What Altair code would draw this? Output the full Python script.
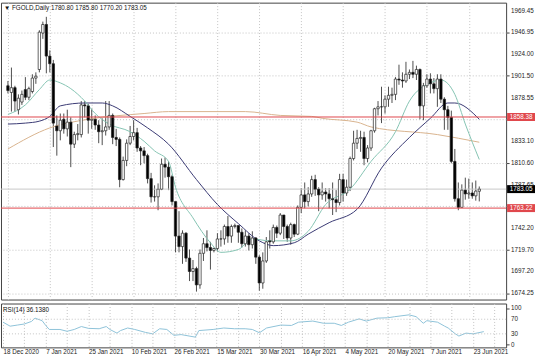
import altair as alt
import pandas as pd

# ---------------- data ----------------
opens = [1891,1884,1889,1866,1874,1887,1879,1885,1899,1908,1946,1955,1922,1914,1849,1844,1856,1846,1853,1830,
         1840,1840,1871,1870,1855,1856,1850,1843,1844,1848,1860,1837,1835,1793,1813,1831,1838,1842,1826,1823,
         1818,1794,1775,1775,1783,1809,1806,1796,1770,1734,1723,1737,1711,1697,1700,1683,1716,1726,1722,1719,
         1721,1731,1731,1744,1734,1744,1745,1738,1726,1734,1725,1732,1712,1685,1708,1729,1728,1743,1737,1756,
         1744,1732,1746,1736,1764,1777,1770,1778,1793,1783,1777,1780,1778,1773,1772,1769,1793,1779,1785,1815,
         1831,1836,1837,1815,1826,1844,1867,1869,1869,1877,1881,1882,1898,1897,1896,1903,1905,1903,1908,1870,
         1891,1898,1893,1888,1898,1877,1866,1858,1812,1773,1764,1782,1778,1779,1776,1780.80]
highs = [1896,1910,1891,1882,1886,1900,1890,1903,1905,1949,1958,1963,1928,1918,1860,1862,1862,1866,1858,1843,
         1851,1875,1875,1872,1867,1860,1855,1857,1875,1875,1862,1846,1837,1817,1835,1849,1855,1847,1828,1827,
         1820,1800,1787,1789,1815,1816,1812,1798,1770,1760,1740,1738,1720,1709,1702,1720,1732,1740,1728,1722,
         1737,1740,1746,1755,1746,1747,1745,1742,1740,1737,1739,1733,1714,1717,1733,1740,1746,1745,1758,1756,
         1746,1748,1747,1766,1784,1790,1785,1797,1798,1785,1790,1784,1784,1790,1782,1799,1799,1793,1817,1844,
         1845,1844,1843,1829,1845,1868,1875,1890,1881,1890,1889,1900,1913,1905,1916,1908,1917,1912,1909,1894,
         1903,1904,1899,1903,1903,1879,1870,1865,1825,1790,1788,1795,1794,1790,1792,1785.80]
lows = [1883,1864,1864,1861,1871,1876,1876,1883,1893,1905,1940,1904,1905,1827,1818,1834,1841,1838,1806,1826,
        1834,1837,1858,1841,1846,1845,1831,1829,1839,1845,1830,1828,1785,1792,1807,1829,1834,1822,1808,1810,
        1789,1769,1770,1761,1782,1795,1782,1766,1717,1717,1705,1707,1687,1687,1676,1679,1708,1718,1699,1717,
        1718,1723,1725,1727,1727,1742,1727,1722,1723,1719,1721,1705,1677,1679,1706,1721,1726,1732,1735,1731,
        1728,1725,1733,1735,1758,1763,1765,1775,1776,1760,1772,1770,1763,1756,1759,1766,1770,1776,1781,1813,
        1825,1822,1808,1811,1823,1842,1860,1852,1862,1869,1873,1876,1892,1889,1894,1898,1899,1897,1856,1855,
        1889,1883,1883,1869,1873,1845,1845,1810,1770,1761,1764,1772,1773,1773,1771,1770.20]
closes = [1886,1889,1875,1878,1882,1879,1888,1899,1901,1947,1955,1922,1914,1852,1844,1855,1846,1853,1830,1840,
          1841,1871,1870,1855,1856,1850,1843,1844,1848,1860,1837,1835,1793,1813,1831,1838,1842,1826,1823,1818,
          1794,1775,1775,1783,1809,1806,1796,1770,1734,1723,1737,1711,1697,1700,1683,1716,1726,1722,1719,1721,
          1731,1731,1744,1734,1744,1745,1738,1726,1734,1725,1732,1712,1685,1708,1728,1728,1743,1737,1756,1744,
          1732,1746,1736,1764,1777,1770,1778,1793,1783,1777,1780,1778,1773,1772,1769,1793,1779,1785,1815,1831,
          1836,1837,1815,1826,1844,1867,1869,1869,1877,1881,1882,1898,1897,1896,1903,1905,1903,1908,1870,1891,
          1898,1893,1888,1898,1877,1866,1858,1812,1773,1764,1782,1778,1779,1776,1781,1783.05]

# moving averages: (bar index, price)
ma_fast_i = [0, 5, 9, 12, 15, 18, 22, 25, 29, 35, 39, 42, 46, 48, 53, 58, 61, 66, 70, 75, 81, 86, 91, 98, 104, 111, 115, 121, 124, 128, 131, 135]
ma_fast_v = [1861, 1871, 1887, 1897, 1894, 1888, 1875, 1862, 1851, 1843, 1833, 1823, 1812, 1785, 1753, 1727, 1717, 1720, 1731, 1729, 1729, 1739, 1767, 1783, 1812, 1843, 1875, 1894, 1897, 1882, 1851, 1814]
ma_mid_i = [0, 5, 9, 12, 15, 22, 27, 30, 35, 40, 46, 54, 60, 66, 72, 76, 82, 86, 92, 100, 107, 115, 121, 126, 128, 135]
ma_mid_v = [1851, 1852, 1854, 1859, 1870, 1873, 1873, 1870, 1859, 1847, 1830, 1793, 1767, 1747, 1729, 1724, 1727, 1736, 1748, 1762, 1805, 1837, 1857, 1873, 1873, 1856]
ma_slow_i = [0, 12, 23, 39, 46, 68, 78, 87, 90, 100, 104, 123, 135]
ma_slow_v = [1825, 1847, 1856, 1862, 1864, 1864, 1860, 1859, 1857, 1853, 1848, 1840, 1832]

rsi_i = [0, 2, 4, 6, 8, 9, 11, 12, 13, 16, 18, 20, 22, 24, 27, 29, 30, 32, 33, 35, 37, 40, 42, 44, 46, 48, 50,
         54, 55, 59, 62, 65, 68, 70, 72, 74, 78, 81, 83, 87, 90, 93, 95, 97, 100, 102, 105, 108, 110, 114, 116,
         118, 119, 122, 124, 125, 127, 128, 130, 132, 135]
rsi_v = [62, 51, 54, 57, 64, 73, 66, 53, 42, 42, 37, 42, 50, 45, 44, 50, 42, 32, 39, 46, 42, 34, 30, 44, 42, 26, 28,
         21, 39, 42, 46, 44, 44, 42, 33, 46, 54, 53, 62, 65, 59, 59, 53, 62, 71, 65, 73, 74, 77, 82, 77,
         59, 66, 62, 51, 46, 30, 24, 32, 30, 36.138]

level_prices = [1858.38, 1763.22]
level_texts = ["1858.38", "1763.22"]
bid_price = [1783.05]
bid_text = ["1783.05"]

price_ticks = [1969.45, 1946.95, 1924.00, 1901.50, 1878.55, 1856.05, 1833.10, 1810.60,
               1787.65, 1765.15, 1742.20, 1719.70, 1697.20, 1674.25]
price_labels = ["1969.45", "1946.95", "1924.00", "1901.50", "1878.55", "", "1833.10", "1810.60",
                "1787.65", "", "1742.20", "1719.70", "1697.20", "1674.25"]
rsi_ticks = [0, 30, 70, 100]
rsi_labels = ["0", "30", "70", "100"]
date_pos = [0, 12, 24, 36, 48, 60, 72, 84, 96, 108, 120, 132]
date_txt = ["18 Dec 2020", "7 Jan 2021", "25 Jan 2021", "10 Feb 2021", "26 Feb 2021", "15 Mar 2021",
            "30 Mar 2021", "16 Apr 2021", "4 May 2021", "20 May 2021", "7 Jun 2021", "23 Jun 2021"]
header = "\u25bc FGOLD,Daily  1780.80 1785.80 1770.20 1783.05"
rsi_header = "RSI(14) 36.1380"

# ---------------- chart ----------------
FONT = "Liberation Sans"
FS = 6.3
GRID = "#c4c4c4"
TXT = "#222"
W = 507
H_MAIN = 298
H_RSI = 44

df = pd.DataFrame({"i": list(range(len(closes))), "o": opens, "h": highs, "l": lows, "c": closes})

xscale = alt.Scale(domain=[-0.56, 141.26], nice=False, zero=False)
yscale = alt.Scale(domain=[1667.7, 1977.8], nice=False, zero=False)
rscale = alt.Scale(domain=[-7, 113], nice=False, zero=False)

grid_vals = list(range(0, 141, 6))
x_grid_axis = alt.Axis(values=grid_vals, labels=False, ticks=False, domain=False, grid=True,
                       gridColor=GRID, gridDash=[1, 2], title=None)
y_axis = alt.Axis(orient="right", values=price_ticks, labels=False, tickSize=3, tickColor="#444",
                  domain=False, grid=True, gridColor=GRID, gridDash=[1, 2], title=None)


def X(field="i"):
    return alt.X(f"{field}:Q", scale=xscale)


def Y(field, scale=yscale):
    return alt.Y(f"{field}:Q", scale=scale)


wick = alt.Chart(df).mark_rule(color="#222", strokeWidth=0.8).encode(
    x=alt.X("i:Q", scale=xscale, axis=x_grid_axis),
    y=alt.Y("l:Q", scale=yscale, axis=y_axis),
    y2="h:Q",
)
body = alt.Chart(df).mark_bar(width=2.4, stroke="#222", strokeWidth=0.7).encode(
    x=X(), y=Y("o"), y2="c:Q",
    fill=alt.condition("datum.c >= datum.o", alt.value("#ffffff"), alt.value("#000000")),
)


def ma_layer(idx, vals, color, width=1.0):
    d = pd.DataFrame({"i": idx, "v": vals})
    return alt.Chart(d).mark_line(color=color, strokeWidth=width, interpolate="monotone").encode(
        x=X(), y=Y("v"))


ma_slow = ma_layer(ma_slow_i, ma_slow_v, "#d9b48f")
ma_mid = ma_layer(ma_mid_i, ma_mid_v, "#3b3b74")
ma_fast = ma_layer(ma_fast_i, ma_fast_v, "#86c4b3")

lv = pd.DataFrame({"p": level_prices, "t": level_texts})
bid = pd.DataFrame({"p": bid_price, "t": bid_text})
plab = pd.DataFrame({"p": price_ticks, "t": price_labels})

bid_line = alt.Chart(bid).mark_rule(color="#c8c8c8", strokeWidth=1).encode(y=Y("p"))
red_lines = alt.Chart(lv).mark_rule(color="#e0474c", strokeWidth=1).encode(y=Y("p"))

price_txt = alt.Chart(plab).mark_text(font=FONT, fontSize=FS, align="left", baseline="middle", color=TXT).encode(
    x=alt.value(W + 5), y=Y("p"), text="t:N")

red_tag = alt.Chart(lv).mark_tick(orient="horizontal", size=28, thickness=8, color="#e0474c", opacity=1).encode(
    x=alt.value(W + 15), y=Y("p"))
red_txt = alt.Chart(lv).mark_text(color="white", font=FONT, fontSize=FS, align="center", baseline="middle").encode(
    x=alt.value(W + 15), y=Y("p"), text="t:N")
bid_tag = alt.Chart(bid).mark_tick(orient="horizontal", size=28, thickness=8, color="#000000", opacity=1).encode(
    x=alt.value(W + 15), y=Y("p"))
bid_txt = alt.Chart(bid).mark_text(color="white", font=FONT, fontSize=FS, align="center", baseline="middle").encode(
    x=alt.value(W + 15), y=Y("p"), text="t:N")

head = alt.Chart(pd.DataFrame({"t": [header]})).mark_text(
    font=FONT, fontSize=FS, align="left", baseline="middle", color="#111").encode(
    x=alt.value(3), y=alt.value(5), text="t:N")

main = alt.layer(wick, bid_line, ma_slow, ma_mid, ma_fast, body, red_lines, price_txt, red_tag, red_txt,
                 bid_tag, bid_txt, head).properties(width=W, height=H_MAIN)

# RSI panel
rsi_df = pd.DataFrame({"i": rsi_i, "v": rsi_v})
lab_x = " : ".join([f"datum.value == {p} ? '{t}'" for p, t in zip(date_pos, date_txt)]) + " : ''"
x_axis_bottom = alt.Axis(values=grid_vals, labelExpr=lab_x, labelFont=FONT, labelFontSize=FS, labelColor=TXT,
                         labelAlign="left", labelPadding=1, labelOverlap=False, labelFlush=False, labelBound=False,
                         ticks=False, domain=False, grid=True, gridColor=GRID, gridDash=[1, 2], title=None)
r_axis = alt.Axis(orient="right", values=rsi_ticks, labels=False, tickSize=3, tickColor="#444",
                  domain=False, grid=False, title=None)

rsi_line = alt.Chart(rsi_df).mark_line(color="#8fc3d9", strokeWidth=1).encode(
    x=alt.X("i:Q", scale=xscale, axis=x_axis_bottom),
    y=alt.Y("v:Q", scale=rscale, axis=r_axis))
rsi_lv = alt.Chart(pd.DataFrame({"v": [30, 70]})).mark_rule(color=GRID, strokeDash=[1, 2]).encode(
    y=Y("v", rscale))
rsi_txt = alt.Chart(pd.DataFrame({"v": rsi_ticks, "t": rsi_labels})).mark_text(
    font=FONT, fontSize=FS, align="left", baseline="middle", color=TXT).encode(
    x=alt.value(W + 5), y=Y("v", rscale), text="t:N")
rsi_head = alt.Chart(pd.DataFrame({"t": [rsi_header]})).mark_text(
    font=FONT, fontSize=FS, align="left", baseline="middle", color="#111").encode(
    x=alt.value(2), y=alt.value(6), text="t:N")

rsi = alt.layer(rsi_line, rsi_lv, rsi_txt, rsi_head).properties(width=W, height=H_RSI)

chart = alt.vconcat(main, rsi, spacing=2).properties(
    padding={"left": 0, "top": 1, "right": 0, "bottom": 0},
    background="white",
).configure_view(stroke="#444", strokeWidth=1)

chart.save("out.html", embed_options={"renderer": "svg", "actions": False})
